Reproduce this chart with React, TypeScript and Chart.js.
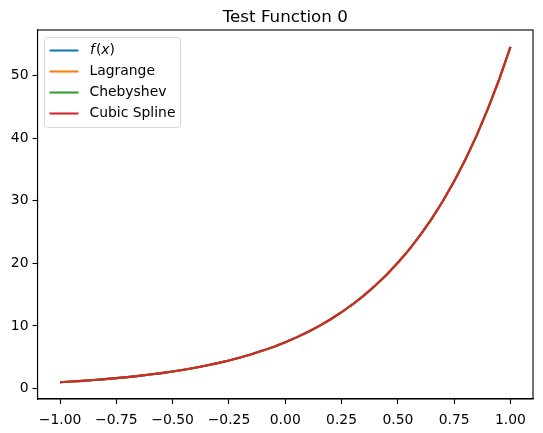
import React, { useEffect, useRef } from "react";
import { Chart, registerables } from "chart.js";

Chart.register(...registerables);

const xValues = [
  -1.0, -0.95, -0.9, -0.85, -0.8, -0.75, -0.7, -0.65, -0.6, -0.55, -0.5, -0.45, -0.4, -0.35, -0.3, -0.25,
  -0.2, -0.15, -0.1, -0.05, 0.0, 0.05, 0.1, 0.15, 0.2, 0.25, 0.3, 0.35, 0.4, 0.45, 0.5, 0.55, 0.6, 0.65,
  0.7, 0.75, 0.8, 0.85, 0.9, 0.95, 1.0,
];
const fValues = [
  1.0, 1.105, 1.221, 1.35, 1.492, 1.649, 1.822, 2.014, 2.226, 2.46, 2.718, 3.004, 3.32, 3.669, 4.055, 4.482,
  4.953, 5.474, 6.05, 6.686, 7.389, 8.166, 9.025, 9.974, 11.023, 12.182, 13.464, 14.88, 16.445, 18.174,
  20.086, 22.198, 24.533, 27.113, 29.964, 33.115, 36.598, 40.447, 44.701, 49.402, 54.598,
];
const lagrangeValues = [...fValues];
const chebyshevValues = [...fValues];
const splineValues = [...fValues];

const seriesNames = ["f(x)", "Lagrange", "Chebyshev", "Cubic Spline"];
const seriesColors = ["#1f77b4", "#ff7f0e", "#2ca02c", "#d62728"];
const xTicks = [-1.0, -0.75, -0.5, -0.25, 0.0, 0.25, 0.5, 0.75, 1.0];
const yTicks = [0, 10, 20, 30, 40, 50];
const titleText = "Test Function 0";

const FONT = "DejaVu Sans";

const fmtMinus = (s: string) => s.replace("-", "\u2212");

export default function App() {
  const ref = useRef<HTMLCanvasElement | null>(null);

  useEffect(() => {
    document.body.style.margin = "0";
    const canvas = ref.current!;
    const series = [fValues, lagrangeValues, chebyshevValues, splineValues];

    const framePlugin = {
      id: "framePlugin",
      afterDraw(chart: any) {
        const ctx = chart.ctx;
        const a = chart.chartArea;
        ctx.save();
        // frame
        ctx.strokeStyle = "#000";
        ctx.lineWidth = 1.1;
        ctx.strokeRect(a.left, a.top, a.right - a.left, a.bottom - a.top);
        // title
        ctx.fillStyle = "#000";
        ctx.font = `16.7px "${FONT}"`;
        ctx.textAlign = "center";
        ctx.textBaseline = "alphabetic";
        ctx.fillText(titleText, (a.left + a.right) / 2, 22);
        // legend
        const lx = 44.5, ly = 37.5, lw = 136, lh = 90, r = 3;
        ctx.beginPath();
        ctx.moveTo(lx + r, ly);
        ctx.lineTo(lx + lw - r, ly);
        ctx.quadraticCurveTo(lx + lw, ly, lx + lw, ly + r);
        ctx.lineTo(lx + lw, ly + lh - r);
        ctx.quadraticCurveTo(lx + lw, ly + lh, lx + lw - r, ly + lh);
        ctx.lineTo(lx + r, ly + lh);
        ctx.quadraticCurveTo(lx, ly + lh, lx, ly + lh - r);
        ctx.lineTo(lx, ly + r);
        ctx.quadraticCurveTo(lx, ly, lx + r, ly);
        ctx.closePath();
        ctx.fillStyle = "rgba(255,255,255,0.8)";
        ctx.fill();
        ctx.strokeStyle = "#d6d6d6";
        ctx.lineWidth = 1;
        ctx.stroke();
        const rowY = [50.5, 71.5, 92.5, 113.5];
        seriesNames.forEach((name, i) => {
          ctx.strokeStyle = seriesColors[i];
          ctx.lineWidth = 2.1;
          ctx.beginPath();
          ctx.moveTo(49.5, rowY[i]);
          ctx.lineTo(78.5, rowY[i]);
          ctx.stroke();
          ctx.fillStyle = "#000";
          ctx.textAlign = "left";
          ctx.textBaseline = "middle";
          if (i === 0) {
            let x = 90;
            ctx.font = `italic 13.9px "${FONT}"`;
            ctx.fillText("f", x, rowY[i]);
            x += ctx.measureText("f").width + 1;
            ctx.font = `13.9px "${FONT}"`;
            ctx.fillText("(", x, rowY[i]);
            x += ctx.measureText("(").width;
            ctx.font = `italic 13.9px "${FONT}"`;
            ctx.fillText("x", x, rowY[i]);
            x += ctx.measureText("x").width;
            ctx.font = `13.9px "${FONT}"`;
            ctx.fillText(")", x, rowY[i]);
          } else {
            ctx.font = `13.9px "${FONT}"`;
            ctx.fillText(name, 89.5, rowY[i]);
          }
        });
        ctx.restore();
      },
    };

    const chart = new Chart(canvas, {
      type: "line",
      data: {
        datasets: series.map((vals, i) => ({
          label: seriesNames[i],
          data: xValues.map((x, j) => ({ x, y: vals[j] })),
          borderColor: seriesColors[i],
          backgroundColor: seriesColors[i],
          borderWidth: 2.1,
          pointRadius: 0,
          tension: 0,
          fill: false,
          order: seriesNames.length - 1 - i,
        })),
      },
      options: {
        animation: false,
        responsive: false,
        maintainAspectRatio: false,
        devicePixelRatio: 1,
        layout: { padding: { left: 0, right: 10, top: 30, bottom: 0 } },
        plugins: {
          legend: { display: false },
          title: { display: false },
          tooltip: { enabled: false },
        },
        scales: {
          x: {
            type: "linear",
            min: -1.1,
            max: 1.1,
            afterBuildTicks: (s: any) => {
              s.ticks = xTicks.map((v) => ({ value: v }));
            },
            afterFit: (s: any) => {
              s.height = 34;
            },
            ticks: {
              autoSkip: false,
              maxRotation: 0,
              padding: 8,
              color: "#000",
              font: { family: FONT, size: 13.9 },
              callback: (v: any) => fmtMinus(Number(v).toFixed(2)),
            },
            grid: {
              drawOnChartArea: false,
              drawTicks: true,
              tickLength: 5,
              tickWidth: 1.1,
              tickColor: "#000",
            },
            border: { display: true, color: "#000", width: 1.1 },
          },
          y: {
            type: "linear",
            min: -1.68,
            max: 57.28,
            afterBuildTicks: (s: any) => {
              s.ticks = yTicks.map((v) => ({ value: v }));
            },
            afterFit: (s: any) => {
              s.width = 37.5;
            },
            ticks: {
              autoSkip: false,
              padding: 4,
              color: "#000",
              font: { family: FONT, size: 13.9 },
              callback: (v: any) => String(v),
            },
            grid: {
              drawOnChartArea: false,
              drawTicks: true,
              tickLength: 5,
              tickWidth: 1.1,
              tickColor: "#000",
            },
            border: { display: true, color: "#000", width: 1.1 },
          },
        },
      },
      plugins: [framePlugin],
    } as any);

    return () => chart.destroy();
  }, []);

  return (
    <div style={{ position: "absolute", left: 0, top: 0, width: 543, height: 433, background: "#fff" }}>
      <canvas ref={ref} width={543} height={433} style={{ width: 543, height: 433, display: "block" }} />
    </div>
  );
}
